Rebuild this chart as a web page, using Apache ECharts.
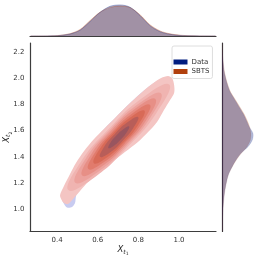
<!DOCTYPE html>
<html><head><meta charset="utf-8">
<script src="https://cdn.jsdelivr.net/npm/echarts@6/dist/echarts.min.js"></script>
<style>html,body{margin:0;padding:0;background:#fff}#c{width:259px;height:259px}</style>
</head><body><div id="c"></div>
<script>
// ---- data ----
const xTicks = [0.4, 0.6, 0.8, 1.0];
const yTicks = [1.0, 1.2, 1.4, 1.6, 1.8, 2.0, 2.2];

// top marginal: density of X_t1
const topX = [0.27, 0.34, 0.39, 0.415, 0.464, 0.513, 0.562, 0.611, 0.661, 0.710, 0.759, 0.808, 0.857, 0.907, 0.956, 1.005, 1.054, 1.10, 1.18];
const topSBTS = [0, 0.005, 0.03, 0.08, 0.26, 0.72, 1.70, 2.64, 3.18, 3.33, 3.16, 2.36, 1.25, 0.56, 0.24, 0.09, 0.03, 0.01, 0];
const topData = [0, 0.003, 0.02, 0.06, 0.22, 0.64, 1.60, 2.62, 3.30, 3.45, 3.20, 2.28, 1.15, 0.48, 0.19, 0.06, 0.02, 0.005, 0];

// right marginal: density of X_t2
const rightY = [2.27, 2.217, 2.140, 2.041, 1.910, 1.834, 1.783, 1.732, 1.681, 1.630, 1.579, 1.528, 1.477, 1.426, 1.375, 1.324, 1.273, 1.222, 1.145, 1.069, 0.969, 0.862, 0.83];
const rightSBTS = [0.005, 0.013, 0.065, 0.175, 0.50, 0.88, 1.15, 1.41, 1.62, 1.79, 1.88, 1.84, 1.62, 1.25, 0.93, 0.67, 0.45, 0.32, 0.19, 0.11, 0.045, 0.02, 0.015];
const rightData = [0.004, 0.01, 0.06, 0.16, 0.47, 0.84, 1.10, 1.36, 1.57, 1.76, 2.01, 1.97, 1.69, 1.23, 0.91, 0.66, 0.45, 0.32, 0.19, 0.11, 0.045, 0.02, 0.015];

// joint KDE contour outlines [x, y]
const dataOuter = [[0.4246,1.0765],[0.4344,1.1454],[0.4541,1.2142],[0.4738,1.2754],[0.5033,1.3673],[0.5426,1.4514],[0.5918,1.5432],[0.6410,1.6274],[0.6951,1.7116],[0.7541,1.8034],[0.8131,1.8875],[0.8624,1.9487],[0.9017,1.9870],[0.9312,1.9947],[0.9509,1.9717],[0.9558,1.9181],[0.9460,1.8569],[0.9214,1.7804],[0.8870,1.6962],[0.8329,1.6044],[0.7787,1.5203],[0.7148,1.4361],[0.6558,1.3596],[0.5918,1.2907],[0.5377,1.2219],[0.5082,1.1530],[0.4935,1.0995],[0.4885,1.0459],[0.4738,1.0153],[0.4492,1.0115],[0.4344,1.0383]];
const sbts1 = [[0.415,1.107],[0.434,1.176],[0.464,1.268],[0.493,1.352],[0.533,1.444],[0.582,1.536],[0.631,1.612],[0.685,1.696],[0.744,1.788],[0.808,1.880],[0.867,1.956],[0.912,2.002],[0.946,2.018],[0.966,2.002],[0.976,1.949],[0.976,1.888],[0.956,1.834],[0.926,1.757],[0.892,1.666],[0.848,1.589],[0.798,1.513],[0.734,1.436],[0.671,1.360],[0.607,1.283],[0.557,1.214],[0.513,1.138],[0.479,1.077],[0.454,1.038],[0.434,1.046],[0.420,1.077]];
const sbts2 = [[0.4557,1.1453],[0.5167,1.3594],[0.6542,1.6117],[0.8144,1.8433],[0.9519,1.9518],[0.8882,1.7333],[0.7466,1.4743],[0.5905,1.2494]];
const sbts3 = [[0.4897,1.2005],[0.5413,1.3861],[0.6596,1.6038],[0.7941,1.7971],[0.9111,1.8855],[0.8595,1.6999],[0.7412,1.4822],[0.6067,1.2889]];
const sbts4 = [[0.5237,1.2558],[0.5660,1.4130],[0.6649,1.5959],[0.7821,1.7643],[0.8839,1.8413],[0.8389,1.6797],[0.7359,1.4901],[0.6228,1.3284]];
const sbts5 = [[0.5542,1.3055],[0.5886,1.4365],[0.6702,1.5879],[0.7701,1.7315],[0.8568,1.7971],[0.8183,1.6595],[0.7306,1.4981],[0.6368,1.3645]];
const sbts6 = [[0.5814,1.3497],[0.6091,1.4566],[0.6755,1.5800],[0.7580,1.6985],[0.8296,1.7529],[0.7978,1.6393],[0.7253,1.5060],[0.6489,1.3974]];
const sbts7 = [[0.6120,1.3994],[0.6326,1.4788],[0.6819,1.5705],[0.7447,1.6611],[0.7990,1.7032],[0.7743,1.6171],[0.7189,1.5155],[0.6622,1.4348]];
const sbts8 = [[0.6528,1.4657],[0.6633,1.5093],[0.6897,1.5589],[0.7245,1.6087],[0.7548,1.6314],[0.7415,1.5833],[0.7111,1.5271],[0.6803,1.4839]];

// ---- styling ----
const FONT = 'DejaVu Sans';
const BLUE = '#001c7f', ORANGE = '#b1400d';
const sbtsLevels = [sbts1, sbts2, sbts3, sbts4, sbts5, sbts6, sbts7, sbts8];
const sbtsColors = ['#f4c5c3', '#f0b4b1', '#eca29d', '#e78f86', '#e17b6c', '#d86a57', '#b85e59', '#98555f'];
const sbtsSmooth = [0.3, 0.5, 0.5, 0.5, 0.5, 0.5, 0.5, 0.5];
const dataLevels = [dataOuter];
const dataColors = ['#c8cbf0'];

function contourSeries(name, levels, colors, smooths) {
  return {
    name, type: 'custom', xAxisIndex: 0, yAxisIndex: 0, clip: true,
    data: levels.map((l, i) => [0.7, 1.55, i]),
    encode: {x: 0, y: 1},
    renderItem: (params, api) => {
      const i = params.dataIndex;
      return {
        type: 'polygon',
        shape: {points: levels[i].map(p => api.coord(p)), smooth: smooths[i]},
        style: {fill: colors[i]}
      };
    }
  };
}
function rightSeries(name, vals, color) {
  const pts = [[0, rightY[0]]].concat(rightY.map((y, i) => [vals[i], y]), [[0, rightY[rightY.length - 1]]]);
  return {
    name, type: 'custom', xAxisIndex: 2, yAxisIndex: 2, clip: true,
    data: [[0, 1.5]], encode: {x: 0, y: 1},
    renderItem: (params, api) => ({
      type: 'polygon',
      shape: {points: pts.map(p => api.coord(p)), smooth: 0.3},
      style: {fill: color, opacity: 0.3, stroke: color, lineWidth: 0.6, strokeOpacity: 0.5}
    })
  };
}
function topSeries(name, vals, color) {
  return {
    name, type: 'line', xAxisIndex: 1, yAxisIndex: 1, smooth: 0.3, symbol: 'none',
    data: topX.map((x, i) => [x, vals[i]]),
    lineStyle: {color, width: 0.6, opacity: 0.5},
    areaStyle: {color, opacity: 0.3}
  };
}

const axisLineStyle = {show: true, onZero: false, lineStyle: {color: '#3d3d3d', width: 1.2}};
const tickLabel = {fontSize: 7, color: '#333', fontFamily: FONT, formatter: v => v.toFixed(1)};
const nameRich = () => ({
  fontFamily: FONT, color: '#262626',
  rich: {
    x: {fontSize: 8.5, fontStyle: 'italic', fontFamily: FONT, lineHeight: 10, padding: [0, 0, 2, 0], verticalAlign: 'bottom', color: '#262626'},
    s: {fontSize: 6, fontStyle: 'italic', fontFamily: FONT, lineHeight: 6, padding: [0, 0, 1.2, 0], verticalAlign: 'bottom', color: '#262626'},
    ss: {fontSize: 4.5, fontFamily: FONT, lineHeight: 4.5, verticalAlign: 'bottom', color: '#262626'}
  }
});

const chart = echarts.init(document.getElementById('c'), null, {renderer: 'canvas'});
chart.setOption({
  animation: false,
  backgroundColor: '#fff',
  textStyle: {fontFamily: FONT},
  grid: [
    {left: 30, top: 43, width: 186, height: 188.5, containLabel: false, outerBoundsMode: 'none'},
    {left: 30, top: 0, width: 186, height: 36, containLabel: false, outerBoundsMode: 'none'},
    {left: 222, top: 43, width: 37, height: 188.5, containLabel: false, outerBoundsMode: 'none'}
  ],
  xAxis: [
    {type: 'value', gridIndex: 0, min: 0.267, max: 1.182, position: 'bottom',
     axisLine: axisLineStyle, axisTick: {show: false}, splitLine: {show: false},
     axisLabel: Object.assign({customValues: xTicks, margin: 5}, tickLabel),
     name: '{x|X}{s|t}{ss|1}', nameLocation: 'middle', nameGap: 15, nameMoveOverlap: false, nameTextStyle: nameRich()},
    {type: 'value', gridIndex: 1, min: 0.267, max: 1.182, position: 'bottom',
     axisLine: axisLineStyle, axisTick: {show: false}, splitLine: {show: false}, axisLabel: {show: false}},
    {type: 'value', gridIndex: 2, min: 0, max: 2.4, show: false}
  ],
  yAxis: [
    {type: 'value', gridIndex: 0, min: 0.828, max: 2.27, position: 'left',
     axisLine: axisLineStyle, axisTick: {show: false}, splitLine: {show: false},
     axisLabel: Object.assign({customValues: yTicks, margin: 5.5}, tickLabel),
     name: '{x|X}{s|t}{ss|2}', nameLocation: 'middle', nameRotate: 90, nameGap: 17, nameMoveOverlap: false, nameTextStyle: nameRich()},
    {type: 'value', gridIndex: 1, min: 0, max: 4, show: false},
    {type: 'value', gridIndex: 2, min: 0.828, max: 2.27, position: 'left',
     axisLine: axisLineStyle, axisTick: {show: false}, splitLine: {show: false}, axisLabel: {show: false}}
  ],
  legend: {
    orient: 'vertical', left: 172, top: 46, icon: 'rect', itemWidth: 14, itemHeight: 5, itemGap: 1.5,
    padding: [12, 3, 3, 1.5], backgroundColor: '#fff', borderColor: '#d6d6d6', borderWidth: 0.8, borderRadius: 2,
    textStyle: {fontSize: 7, color: '#333', fontFamily: FONT, lineHeight: 8, padding: [0, 0, 0, -1]},
    data: [{name: 'Data', itemStyle: {color: BLUE}}, {name: 'SBTS', itemStyle: {color: ORANGE}}],
    selectedMode: false
  },
  series: [
    contourSeries('Data', dataLevels, dataColors, [0.3]),
    contourSeries('SBTS', sbtsLevels, sbtsColors, sbtsSmooth),
    topSeries('SBTS', topSBTS, ORANGE),
    topSeries('Data', topData, BLUE),
    rightSeries('SBTS', rightSBTS, ORANGE),
    rightSeries('Data', rightData, BLUE)
  ]
});
</script></body></html>
